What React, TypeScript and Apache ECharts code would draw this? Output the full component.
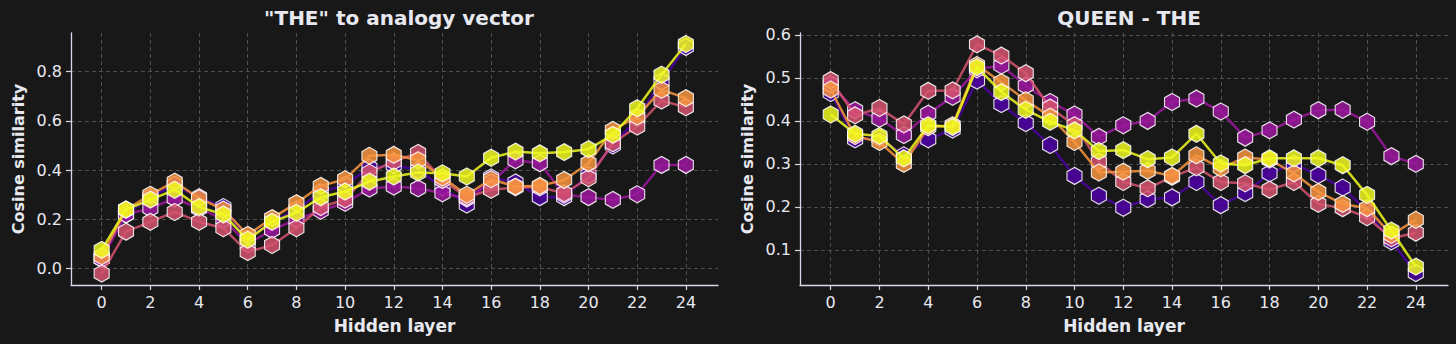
import React, { useEffect, useRef } from "react";
import * as echarts from "echarts";

// Hidden layers (x values)
const layers = [0, 1, 2, 3, 4, 5, 6, 7, 8, 9, 10, 11, 12, 13, 14, 15, 16, 17, 18, 19, 20, 21, 22, 23, 24];
const xTicks = [0, 2, 4, 6, 8, 10, 12, 14, 16, 18, 20, 22, 24];
const leftYTicks = [0, 0.2, 0.4, 0.6, 0.8];
const rightYTicks = [0.1, 0.2, 0.3, 0.4, 0.5, 0.6];

const seriesNames = ["s1", "s2", "s3", "s4", "s5"];
const seriesColors = ["#4c02a1", "#9c179e", "#d5546e", "#f89540", "#f0f921"];

// Panel 1: "THE" to analogy vector
const theIndigo = [0.04, 0.22, 0.29, 0.34, 0.29, 0.25, 0.12, 0.19, 0.24, 0.31, 0.34, 0.41, 0.42, 0.40, 0.33, 0.26, 0.37, 0.35, 0.29, 0.29, 0.38, 0.50, 0.61, 0.76, 0.90];
const thePurple = [0.04, 0.22, 0.245, 0.285, 0.245, 0.20, 0.10, 0.157, 0.20, 0.235, 0.267, 0.325, 0.333, 0.326, 0.306, 0.285, 0.35, 0.44, 0.428, 0.30, 0.29, 0.279, 0.302, 0.421, 0.421];
const theRed = [-0.02, 0.15, 0.19, 0.23, 0.19, 0.164, 0.067, 0.096, 0.164, 0.25, 0.28, 0.39, 0.435, 0.47, 0.36, 0.29, 0.32, 0.33, 0.33, 0.306, 0.367, 0.509, 0.577, 0.682, 0.655];
const theOrange = [0.05, 0.24, 0.30, 0.353, 0.286, 0.24, 0.137, 0.205, 0.266, 0.336, 0.363, 0.458, 0.462, 0.44, 0.37, 0.30, 0.363, 0.333, 0.336, 0.36, 0.428, 0.563, 0.617, 0.726, 0.692];
const theYellow = [0.076, 0.24, 0.28, 0.32, 0.25, 0.22, 0.117, 0.19, 0.227, 0.29, 0.313, 0.353, 0.374, 0.39, 0.387, 0.374, 0.45, 0.475, 0.468, 0.473, 0.485, 0.543, 0.651, 0.787, 0.912];

// Panel 2: QUEEN - THE
const qIndigo = [0.465, 0.357, 0.36, 0.32, 0.357, 0.38, 0.494, 0.439, 0.395, 0.344, 0.272, 0.226, 0.198, 0.218, 0.222, 0.258, 0.204, 0.232, 0.278, 0.30, 0.274, 0.245, 0.19, 0.12, 0.046];
const qPurple = [0.485, 0.425, 0.405, 0.367, 0.417, 0.456, 0.52, 0.529, 0.482, 0.444, 0.415, 0.363, 0.39, 0.40, 0.444, 0.452, 0.422, 0.361, 0.378, 0.403, 0.425, 0.426, 0.398, 0.318, 0.30];
const qRed = [0.495, 0.413, 0.43, 0.392, 0.47, 0.471, 0.578, 0.552, 0.511, 0.431, 0.39, 0.305, 0.258, 0.243, 0.27, 0.292, 0.258, 0.255, 0.24, 0.258, 0.207, 0.197, 0.176, 0.127, 0.14];
const qOrange = [0.473, 0.365, 0.351, 0.30, 0.385, 0.39, 0.53, 0.49, 0.448, 0.41, 0.351, 0.28, 0.282, 0.284, 0.272, 0.32, 0.29, 0.315, 0.31, 0.278, 0.235, 0.207, 0.197, 0.135, 0.17];
const qYellow = [0.415, 0.37, 0.365, 0.313, 0.39, 0.386, 0.525, 0.467, 0.426, 0.398, 0.378, 0.33, 0.332, 0.311, 0.315, 0.37, 0.301, 0.297, 0.313, 0.313, 0.313, 0.297, 0.228, 0.145, 0.061];

const panel1 = [theIndigo, thePurple, theRed, theOrange, theYellow];
const panel2 = [qIndigo, qPurple, qRed, qOrange, qYellow];

const BG = "#181818";
const TEXT = "#e8e9f0";
const AXIS = "#d6d9ea";
const GRID = "#4e4e4e";
const FONT = "DejaVu Sans";
const HEX = "path://M0,-10 L8.66,-5 L8.66,5 L0,10 L-8.66,5 L-8.66,-5 Z";

function makeX(gridIndex: number) {
  return {
    type: "value",
    gridIndex,
    min: -1.26,
    max: 25.32,
    name: "Hidden layer",
    nameLocation: "middle",
    nameGap: 32,
    nameTextStyle: { color: TEXT, fontFamily: FONT, fontSize: 17, fontWeight: "bold" },
    axisLine: { show: true, onZero: false, lineStyle: { color: AXIS, width: 1.3 } },
    axisTick: { show: true, length: 5, customValues: xTicks, lineStyle: { color: AXIS, width: 1.2 } },
    axisLabel: { customValues: xTicks, color: TEXT, fontFamily: FONT, fontSize: 16, margin: 9 },
    splitLine: { show: true, lineStyle: { color: GRID, type: [4, 3], width: 1 } },
  };
}

function makeY(gridIndex: number, min: number, max: number, ticks: number[]) {
  return {
    type: "value",
    gridIndex,
    min,
    max,
    name: "Cosine similarity",
    nameLocation: "middle",
    nameGap: 45,
    nameTextStyle: { color: TEXT, fontFamily: FONT, fontSize: 16, fontWeight: "bold" },
    axisLine: { show: true, onZero: false, lineStyle: { color: AXIS, width: 1.3 } },
    axisTick: { show: true, length: 5, customValues: ticks, lineStyle: { color: AXIS, width: 1.2 } },
    axisLabel: {
      customValues: ticks,
      color: TEXT,
      fontFamily: FONT,
      fontSize: 16,
      margin: 9,
      formatter: (v: number) => v.toFixed(1),
    },
    splitLine: { show: true, lineStyle: { color: GRID, type: [4, 3], width: 1 } },
  };
}

function makeSeries(panel: number[][], idx: number) {
  return panel.map((vals, s) => ({
    type: "line",
    name: seriesNames[s],
    xAxisIndex: idx,
    yAxisIndex: idx,
    data: layers.map((x, i) => [x, vals[i]]),
    symbol: HEX,
    symbolSize: [15, 17],
    showSymbol: true,
    lineStyle: { color: seriesColors[s], width: 2.5, opacity: 0.85 },
    itemStyle: { color: seriesColors[s], borderColor: "#ffffff", borderWidth: 1.2, opacity: 0.85 },
    emphasis: { disabled: true },
    z: 2 + s,
  }));
}

export default function App() {
  const ref = useRef<HTMLDivElement>(null);
  useEffect(() => {
    document.body.style.margin = "0";
    document.body.style.background = BG;
    const chart = echarts.init(ref.current!, null, { renderer: "svg" });
    chart.setOption({
      animation: false,
      backgroundColor: BG,
      title: [
        {
          text: '"THE" to analogy vector',
          left: 394,
          top: 3,
          textAlign: "center",
          textStyle: { color: TEXT, fontFamily: FONT, fontSize: 20, fontWeight: "bold" },
        },
        {
          text: "QUEEN - THE",
          left: 1124,
          top: 3,
          textAlign: "center",
          textStyle: { color: TEXT, fontFamily: FONT, fontSize: 20, fontWeight: "bold" },
        },
      ],
      grid: [
        { left: 71, top: 33, width: 647, height: 252 },
        { left: 800, top: 33, width: 648, height: 252 },
      ],
      xAxis: [makeX(0), makeX(1)],
      yAxis: [makeY(0, -0.0665, 0.9565, leftYTicks), makeY(1, 0.0183, 0.6045, rightYTicks)],
      series: [...makeSeries(panel1, 0), ...makeSeries(panel2, 1)],
    });
    return () => chart.dispose();
  }, []);
  return <div ref={ref} style={{ width: 1456, height: 344 }} />;
}
